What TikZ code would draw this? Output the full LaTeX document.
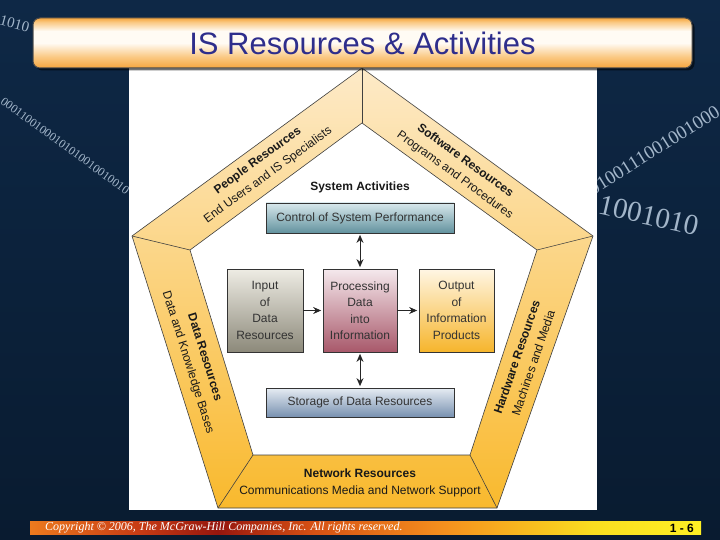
\documentclass[tikz,border=0pt]{standalone}
\usepackage{fontspec}
\setmainfont{Liberation Sans}
\newfontfamily\binfont{Liberation Serif}
\usetikzlibrary{arrows.meta,shadows}

\definecolor{bgtop}{RGB}{14,40,70}
\definecolor{bgmid}{RGB}{26,70,110}
\definecolor{bgbot}{RGB}{9,27,48}
\definecolor{bintext}{RGB}{200,218,236}
\definecolor{barorange}{RGB}{246,166,62}
\definecolor{barsoft}{RGB}{250,200,130}
\definecolor{barlight}{RGB}{255,251,244}
\definecolor{titleblue}{RGB}{46,46,140}
\definecolor{ringtop}{RGB}{253,234,200}
\definecolor{ringbot}{RGB}{249,185,45}
\definecolor{ctrltop}{RGB}{216,232,236}
\definecolor{ctrlbot}{RGB}{98,146,158}
\definecolor{intop}{RGB}{238,236,228}
\definecolor{inbot}{RGB}{140,137,122}
\definecolor{proctop}{RGB}{245,233,237}
\definecolor{procbot}{RGB}{168,88,106}
\definecolor{outtop}{RGB}{255,246,228}
\definecolor{outbot}{RGB}{246,181,44}
\definecolor{stortop}{RGB}{230,236,243}
\definecolor{storbot}{RGB}{120,145,176}
\definecolor{footA}{RGB}{236,122,30}
\definecolor{footB}{RGB}{200,60,20}
\definecolor{footC}{RGB}{150,22,14}
\definecolor{footD}{RGB}{214,80,20}
\definecolor{footE}{RGB}{245,145,30}
\definecolor{footF}{RGB}{250,222,32}
\definecolor{footG}{RGB}{255,240,36}

\pgfdeclarehorizontalshading{footershade}{100bp}{color(0bp)=(footA); color(25bp)=(footA);
  color(33bp)=(footB); color(39bp)=(footC); color(46bp)=(footD); color(56bp)=(footE);
  color(67bp)=(footF); color(75bp)=(footG); color(100bp)=(footG)}
\pgfdeclareverticalshading{titleshade}{100bp}{color(0bp)=(barorange); color(25bp)=(barorange);
  color(36bp)=(barsoft); color(50bp)=(barlight); color(62bp)=(barlight); color(71bp)=(barsoft);
  color(75bp)=(barorange); color(100bp)=(barorange)}

\begin{document}
\begin{tikzpicture}[x=1pt,y=-1pt]
\tikzstyle{binary} = [font=\binfont, text=bintext, opacity=0.8, anchor=west, inner sep=0pt]
\tikzstyle{band} = [draw=black!75, line width=0.6pt]
\tikzstyle{restitle} = [font=\fontsize{12}{17.5}\selectfont, align=center, text=black!90]
\tikzstyle{actbox} = [draw=black!80, line width=0.7pt, align=center, text=black!80,
  font=\fontsize{12}{16.5}\selectfont,
  drop shadow={shadow xshift=1.2pt, shadow yshift=-1.2pt, opacity=0.35}]
\tikzstyle{flow} = [draw=black!85, line width=0.9pt, shorten >=1.5pt,
  -{Stealth[length=8pt,width=7pt]}]
\tikzstyle{flowboth} = [flow, shorten <=1.5pt,
  {Stealth[length=8pt,width=7pt]}-{Stealth[length=8pt,width=7pt]}]
\useasboundingbox (0,0) rectangle (720,540);
\shade[top color=bgtop, middle color=bgmid, bottom color=bgbot] (0,0) rectangle (720,540);

\node[binary, font=\binfont\fontsize{15}{15}\selectfont, rotate=-15] (bits1) at (0,20) {1010};
\node[binary, font=\binfont\fontsize{12}{12}\selectfont, rotate=-36] (bits2) at (2,100) {00011001000101010010010010};
\node[binary, font=\binfont\fontsize{19}{19}\selectfont, rotate=32] (bits3) at (590,190) {0100111001001000};
\node[binary, font=\binfont\fontsize{29}{29}\selectfont, rotate=-13] (bits4) at (586,201) {11001010};

\fill[white] (129,66) rectangle (597,510);

\coordinate (oT) at (362,68);
\coordinate (oR) at (593,236);
\coordinate (oBR) at (497,508);
\coordinate (oBL) at (218,508);
\coordinate (oL) at (132,236);
\coordinate (iT) at (362,123);
\coordinate (iR) at (537,250);
\coordinate (iBR) at (470,455);
\coordinate (iBL) at (253,455);
\coordinate (iL) at (190,250);
\shade[even odd rule, top color=ringtop, bottom color=ringbot]
  (oT) -- (oR) -- (oBR) -- (oBL) -- (oL) -- cycle
  (iT) -- (iR) -- (iBR) -- (iBL) -- (iL) -- cycle;
\draw[band] (oT) -- (oR) -- (oBR) -- (oBL) -- (oL) -- cycle;
\draw[band] (iT) -- (iR) -- (iBR) -- (iBL) -- (iL) -- cycle;
\foreach \v in {T,R,BR,BL,L}
  \draw[band] (o\v) -- (i\v);

\node[restitle, rotate=36] (people) at (263,168)
  {\textbf{People Resources}\\End Users and IS Specialists};
\node[restitle, rotate=-36] (software) at (460,168)
  {\textbf{Software Resources}\\Programs and Procedures};
\node[restitle, rotate=-72.5] (data) at (196,360)
  {\textbf{Data Resources}\\Data and Knowledge Bases};
\node[restitle, rotate=71] (hardware) at (525,360)
  {\textbf{Hardware Resources}\\Machines and Media};
\node[restitle] (network) at (360,483)
  {\textbf{Network Resources}\\Communications Media and Network Support};

\node[font=\bfseries\fontsize{12}{12}\selectfont, text=black!90] (sysact) at (360,187) {System Activities};
\node[actbox, minimum width=188pt, minimum height=30pt, top color=ctrltop, bottom color=ctrlbot]
  (control) at (360,218) {Control of System Performance};
\node[actbox, minimum width=76pt, minimum height=83pt, top color=intop, bottom color=inbot]
  (input) at (265,310.5) {Input\\of\\Data\\Resources};
\node[actbox, minimum width=74pt, minimum height=83pt, top color=proctop, bottom color=procbot]
  (process) at (360,310.5) {Processing\\Data\\into\\Information};
\node[actbox, minimum width=75pt, minimum height=83pt, top color=outtop, bottom color=outbot]
  (output) at (456.5,310.5) {Output\\of\\Information\\Products};
\node[actbox, minimum width=188pt, minimum height=29pt, top color=stortop, bottom color=storbot]
  (storage) at (360,402.5) {Storage of Data Resources};

\draw[flowboth] (control) -- (process);
\draw[flow] (input) -- (process);
\draw[flow] (process) -- (output);
\draw[flowboth] (process) -- (storage);

\fill[black, opacity=0.55, rounded corners=7pt] (35.5,20.5) rectangle (694.5,70.5);
\shade[shading=titleshade, draw=black!70, line width=1pt, rounded corners=7pt] (33,18) rectangle (692,68);
\node[text=titleblue, font=\fontsize{31}{31}\selectfont] (title) at (362.5,43) {IS Resources \& Activities};

\shade[shading=footershade] (30,521.5) rectangle (701,534.5);
\node[anchor=west, text=white, inner sep=0pt, font=\binfont\itshape\fontsize{12}{12}\selectfont]
  (copyright) at (45,528) {Copyright © 2006, The McGraw-Hill Companies, Inc. All rights reserved.};
\node[anchor=east, inner sep=0pt, font=\bfseries\fontsize{12}{12}\selectfont] (slideno) at (694,528) {1 - 6};
\end{tikzpicture}
\end{document}
